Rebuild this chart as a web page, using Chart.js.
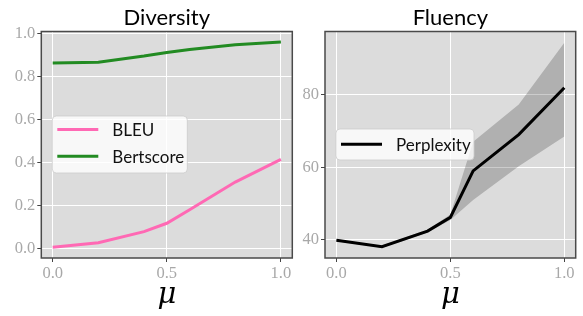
<!DOCTYPE html>
<html>
<head>
<meta charset="utf-8">
<script src="https://cdn.jsdelivr.net/npm/chart.js@4"></script>
<style>
  html, body { margin: 0; padding: 0; background: #fff; }
  #wrap { position: relative; width: 583px; height: 316px; }
  .panel { position: absolute; top: 0; }
  #left { left: 0; }
  #right { left: 300px; }
</style>
</head>
<body>
<div id="wrap">
  <div class="panel" id="left"><canvas id="divChart" width="300" height="316"></canvas></div>
  <div class="panel" id="right"><canvas id="fluChart" width="283" height="316"></canvas></div>
</div>
<script>
// values
const muValues = [0, 0.2, 0.4, 0.5, 0.6, 0.8, 1.0];
const bleu = [0.008, 0.029, 0.080, 0.119, 0.182, 0.310, 0.415];
const bertscore = [0.862, 0.866, 0.894, 0.911, 0.925, 0.947, 0.959];
const perplexity = [39.9, 38.1, 42.4, 46.2, 59.0, 69.0, 81.9];
const pplUpper = [40.2, 38.4, 42.8, 47.0, 67.0, 77.3, 94.3];
const pplLower = [39.6, 37.8, 42.0, 45.5, 51.0, 60.3, 68.5];

const muTicks = [0, 0.5, 1.0];
const diversityTicks = [0, 0.2, 0.4, 0.6, 0.8, 1.0];
const fluencyTicks = [40, 60, 80];

const tickFont = { family: 'Liberation Serif', size: 16.5 };
const tickGray = '#a8a8a8';
const sansFont = 'Lato';

const pts = ys => muValues.map((m, i) => ({ x: m, y: ys[i] }));

// axes background, frame, title and in-plot legend
const panelDeco = {
  id: 'panelDeco',
  beforeDraw(chart) {
    const { ctx, chartArea: a } = chart;
    ctx.save();
    ctx.fillStyle = '#dcdcdc';
    ctx.fillRect(a.left, a.top, a.width, a.height);
    ctx.restore();
  },
  afterDraw(chart, args, opts) {
    const { ctx, chartArea: a } = chart;
    ctx.save();
    ctx.strokeStyle = '#4a4a4a';
    ctx.lineWidth = 1.5;
    ctx.strokeRect(a.left, a.top, a.width, a.height);

    ctx.fillStyle = '#000';
    ctx.font = `22px ${sansFont}`;
    ctx.textAlign = 'center';
    ctx.textBaseline = 'alphabetic';
    ctx.fillText(opts.title, (a.left + a.right) / 2, 25);

    const lg = opts.legend;
    const bx = a.left + lg.dx, by = a.top + lg.dy;
    ctx.beginPath();
    ctx.roundRect(bx, by, lg.w, lg.h, 4);
    ctx.fillStyle = 'rgba(255,255,255,0.8)';
    ctx.fill();
    ctx.strokeStyle = 'rgba(204,204,204,0.8)';
    ctx.lineWidth = 1;
    ctx.stroke();
    ctx.font = `17px ${sansFont}`;
    ctx.textAlign = 'left';
    ctx.textBaseline = 'middle';
    lg.items.forEach((idx, row) => {
      const ds = chart.data.datasets[idx];
      const cy = by + lg.first + row * lg.step;
      ctx.beginPath();
      ctx.moveTo(bx + 5, cy);
      ctx.lineTo(bx + 46, cy);
      ctx.strokeStyle = ds.borderColor;
      ctx.lineWidth = 3;
      ctx.stroke();
      ctx.fillStyle = '#111';
      ctx.fillText(ds.label, bx + 60, cy + 1);
    });
    ctx.restore();
  }
};

function xScale() {
  return {
    type: 'linear', min: -0.05, max: 1.05,
    afterBuildTicks: s => { s.ticks = muTicks.map(v => ({ value: v })); },
    afterFit: s => { s.height = 58; },
    grid: { color: '#ffffff', lineWidth: 1, tickColor: '#444', tickLength: 4 },
    border: { display: false },
    ticks: { font: tickFont, color: tickGray, padding: 2, maxRotation: 0, callback: v => v.toFixed(1) },
    title: { display: true, text: 'μ', color: '#000', font: { family: 'DejaVu Serif', style: 'italic', size: 29 }, padding: { top: 0, bottom: 3 } }
  };
}

function yScale(min, max, ticks, width, fmt) {
  return {
    type: 'linear', min, max,
    afterBuildTicks: s => { s.ticks = ticks.map(v => ({ value: v })); },
    afterFit: s => { s.width = width; },
    grid: { color: '#ffffff', lineWidth: 1, tickColor: '#444', tickLength: 4 },
    border: { display: false },
    ticks: { font: tickFont, color: tickGray, padding: 2, callback: fmt }
  };
}

new Chart(document.getElementById('divChart'), {
  type: 'line',
  data: {
    datasets: [
      { label: 'BLEU', data: pts(bleu), borderColor: '#ff69b4', borderWidth: 3, pointRadius: 0, tension: 0 },
      { label: 'Bertscore', data: pts(bertscore), borderColor: '#228b22', borderWidth: 3, pointRadius: 0, tension: 0 }
    ]
  },
  options: {
    responsive: false,
    animation: false,
    layout: { padding: { top: 31.5, right: 7.7, left: 0, bottom: 0 } },
    scales: {
      x: xScale(),
      y: yScale(-0.042, 1.008, diversityTicks, 41.3, v => v.toFixed(1))
    },
    plugins: {
      legend: { display: false },
      tooltip: { enabled: false },
      panelDeco: { title: 'Diversity', legend: { dx: 11, dy: 84.5, w: 135, h: 57, first: 13.5, step: 26.7, items: [0, 1] } }
    }
  },
  plugins: [panelDeco]
});

new Chart(document.getElementById('fluChart'), {
  type: 'line',
  data: {
    datasets: [
      { label: 'Perplexity', data: pts(perplexity), borderColor: '#000000', borderWidth: 3, pointRadius: 0, tension: 0 },
      { label: 'upper', data: pts(pplUpper), borderWidth: 0, pointRadius: 0, fill: '+1', backgroundColor: 'rgba(0,0,0,0.2)' },
      { label: 'lower', data: pts(pplLower), borderWidth: 0, pointRadius: 0, fill: false }
    ]
  },
  options: {
    responsive: false,
    animation: false,
    layout: { padding: { top: 31.5, right: 7.3, left: 0, bottom: 0 } },
    scales: {
      x: xScale(),
      y: yScale(35.0, 97.4, fluencyTicks, 25, v => String(v))
    },
    plugins: {
      legend: { display: false },
      tooltip: { enabled: false },
      panelDeco: { title: 'Fluency', legend: { dx: 11, dy: 97.5, w: 138, h: 31, first: 15.3, step: 0, items: [0] } }
    }
  },
  plugins: [panelDeco]
});
</script>
</body>
</html>
